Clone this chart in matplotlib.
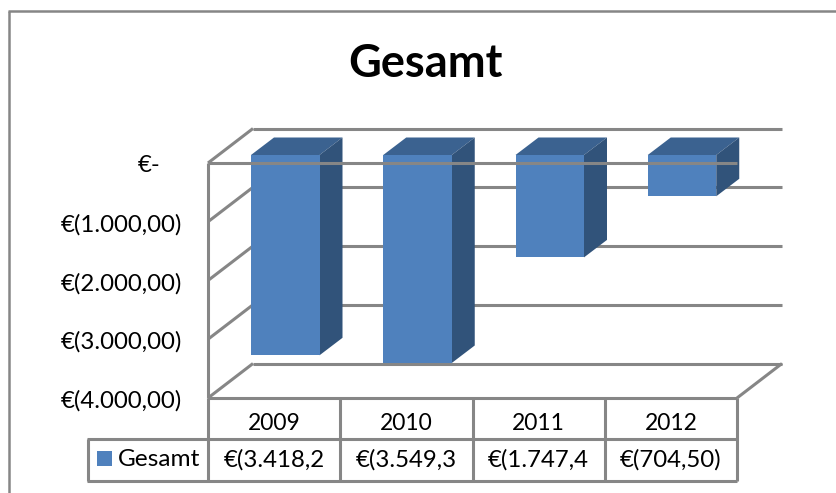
import matplotlib
matplotlib.use('Agg')
import matplotlib.pyplot as plt
from matplotlib.patches import Polygon, Rectangle

plt.rcParams['font.family'] = ['Lato', 'DejaVu Sans']

# values
years = ['2009', '2010', '2011', '2012']
values = [-3418.2, -3549.3, -1747.4, -704.5]
table_labels = ['€(3.418,2', '€(3.549,3', '€(1.747,4', '€(704,50)']
tick_values = [0, -1000, -2000, -3000, -4000]
tick_labels = ['€-', '€(1.000,00)', '€(2.000,00)', '€(3.000,00)', '€(4.000,00)']
series_name = 'Gesamt'

GRID = '#868686'
FRONT = '#4f81bd'
SIDE = '#31537a'
TOP = '#3b6290'

W, H = 836, 493
fig = plt.figure(figsize=(W / 100, H / 100), dpi=100)
ax = fig.add_axes([0, 0, 1, 1])
ax.set_xlim(0, W)
ax.set_ylim(H, 0)
ax.axis('off')

# pseudo 3d layout, in pixels
x_front, x_right = 208, 737
wall_dx, wall_dy = 45, -34.5
bar_dx, bar_dy = 23, -17.5
cat_w = (x_right - x_front) / len(years)
bar_w = 68.5
front_top, front_bottom = 163, 398


def y_wall(v):
    return front_top + (front_bottom - front_top) * v / -4000


def y_bar(v):
    return 155 + 58.6 * v / -1000


def line(xs, ys, z=2, lw=2.2):
    ax.plot(xs, ys, color=GRID, lw=lw, solid_capstyle='butt', zorder=z)


# frame around the chart, cut off at the right and bottom
line([9, 9], [493, 11], z=1, lw=1.8)
line([8, 836], [11, 11], z=1, lw=1.8)

ax.text(425, 64, series_name, fontsize=32.5, fontweight='bold', ha='center', va='center', color='black')

# back wall gridlines and side wall
for v, lab in zip(tick_values, tick_labels):
    y0 = y_wall(v)
    y1 = y0 + wall_dy
    line([x_front, x_front + wall_dx], [y0, y1])
    line([x_front + wall_dx, x_right + wall_dx], [y1, y1])
    # the zero label sits further left, accounting format pads it
    tx = 161 if v == 0 else 182
    ax.text(tx, y0 + 3, lab, fontsize=17.3, ha='right', va='center', color='black')
line([x_right, x_right + wall_dx], [y_wall(-4000), y_wall(-4000) + wall_dy])

# bars
for i, v in enumerate(values):
    xl = x_front + cat_w * i + 43
    xr = xl + bar_w
    yt, yb = y_bar(0), y_bar(v)
    ax.add_patch(Polygon([(xl, yt), (xl + bar_dx, yt + bar_dy), (xr + bar_dx, yt + bar_dy), (xr, yt)],
                         fc=TOP, ec='none', zorder=3))
    ax.add_patch(Polygon([(xr, yt), (xr + bar_dx, yt + bar_dy), (xr + bar_dx, yb + bar_dy), (xr, yb)],
                         fc=SIDE, ec='none', zorder=3))
    ax.add_patch(Rectangle((xl, yt), bar_w, yb - yt, fc=FRONT, ec='none', zorder=4))

# front edge lines, the zero line runs over the bars
line([x_front, x_right], [front_top, front_top], z=5)
line([x_front, x_front], [front_top, front_bottom], z=5)

# data table
row1, row2, row3 = front_bottom, 439, 480.5
line([x_front, x_right], [row1, row1], z=5)
line([87, x_right], [row2, row2], z=5)
line([87, x_right], [row3, row3], z=5)
line([88, 88], [row2, row3], z=5)
for i in range(len(years) + 1):
    xc = x_front + cat_w * i
    line([xc, xc], [row1, row3], z=5)
for i, (yr, lab) in enumerate(zip(years, table_labels)):
    xc = x_front + cat_w * (i + 0.5)
    ax.text(xc, 423, yr, fontsize=16.5, ha='center', va='center', color='black')
    ax.text(xc, 460, lab, fontsize=17.3, ha='center', va='center', color='black')
ax.add_patch(Rectangle((97, 451), 15, 15, fc=FRONT, ec='none', zorder=4))
ax.text(118, 459.5, series_name, fontsize=17.6, ha='left', va='center', color='black')

fig.savefig('out.png', dpi=100)
